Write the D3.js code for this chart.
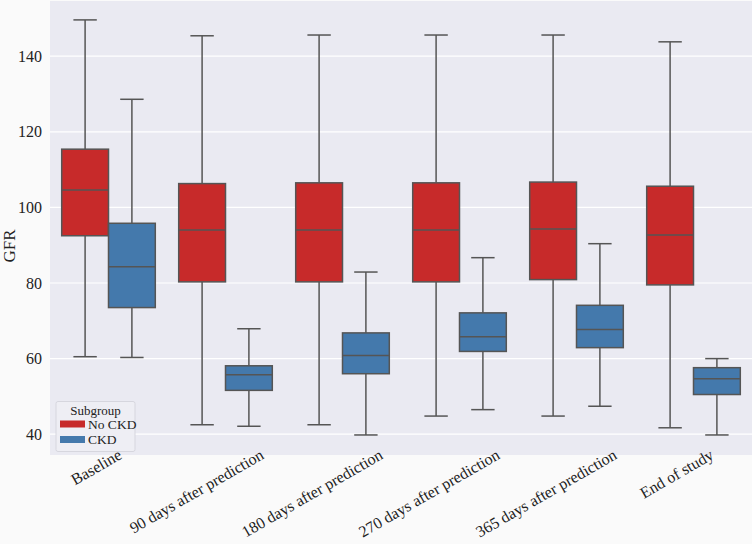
<!DOCTYPE html>
<html><head><meta charset="utf-8">
<script src="https://cdn.jsdelivr.net/npm/d3@7"></script>
<style>body{margin:0;background:#fafafa;} svg{display:block;} text{font-family:"Liberation Serif","Times New Roman","DejaVu Serif",serif;}</style>
</head><body>
<svg id="chart" width="752" height="544"></svg>
<script>
const categories = ["Baseline","90 days after prediction","180 days after prediction","270 days after prediction","365 days after prediction","End of study"];
const groups = ["No CKD","CKD"];
// [whiskerLow, Q1, median, Q3, whiskerHigh]
const noCKD = [
  [60.5, 92.5, 104.6, 115.4, 149.6],
  [42.5, 80.3, 94.0, 106.3, 145.4],
  [42.5, 80.3, 94.0, 106.5, 145.6],
  [44.8, 80.3, 94.0, 106.5, 145.6],
  [44.8, 80.9, 94.3, 106.7, 145.6],
  [41.7, 79.5, 92.7, 105.6, 143.8]
];
const ckd = [
  [60.3, 73.5, 84.3, 95.8, 128.6],
  [42.1, 51.6, 55.7, 58.1, 67.9],
  [39.8, 56.0, 60.8, 66.8, 82.9],
  [46.5, 61.9, 65.8, 72.1, 86.7],
  [47.4, 62.9, 67.7, 74.1, 90.4],
  [39.8, 50.5, 54.7, 57.6, 60.0]
];
const yTicks = [40, 60, 80, 100, 120, 140];
const colors = ["#c72a2a", "#4479ac"];

const svg = d3.select("#chart");
const L = 50, R = 752, T = 1, B = 455;

svg.append("rect").attr("x", L).attr("y", T).attr("width", R - L).attr("height", B - T).attr("fill", "#eaeaf2");

const x = d3.scaleBand().domain(categories).range([L, R]).padding(0);
const y = d3.scaleLinear().domain([34.5, 154.6]).range([B, T]);

// grid
svg.append("g").selectAll("line").data(yTicks).join("line")
  .attr("x1", L).attr("x2", R).attr("y1", d => y(d)).attr("y2", d => y(d))
  .attr("stroke", "#fff").attr("stroke-width", 1.2);

// y axis
const yAxis = svg.append("g").attr("transform", `translate(${L},0)`)
  .call(d3.axisLeft(y).tickValues(yTicks).tickSize(0).tickPadding(8));
yAxis.select(".domain").remove();
yAxis.selectAll("text").attr("font-family", null).attr("font-size", 16).attr("fill", "#222");

// x axis labels
const bw = x.bandwidth();
svg.append("g").selectAll("text").data(categories).join("text")
  .attr("text-anchor", "end")
  .attr("font-size", 16).attr("fill", "#222")
  .text(d => d)
  .each(function (d) {
    const len = this.getComputedTextLength();
    d3.select(this).attr("transform", `translate(${x(d) + bw / 2 + 0.26 * len},${B + 3}) rotate(-30)`);
  });

// y label
svg.append("text").attr("transform", `translate(15,246) rotate(-90)`)
  .attr("text-anchor", "middle").attr("font-size", 17).attr("fill", "#222")
  .text("GFR");

// boxes
const lineColor = "#555";
const series = [noCKD, ckd];
series.forEach((data, gi) => {
  const g = svg.append("g");
  data.forEach((s, ci) => {
    const c = x(categories[ci]) + bw / 2;
    const w = bw * 0.4;
    const x0 = gi === 0 ? c - w : c;
    const xc = x0 + w / 2;
    const [lo, q1, med, q3, hi] = s;
    g.append("line").attr("x1", xc).attr("x2", xc).attr("y1", y(hi)).attr("y2", y(q3)).attr("stroke", lineColor).attr("stroke-width", 1.5);
    g.append("line").attr("x1", xc).attr("x2", xc).attr("y1", y(q1)).attr("y2", y(lo)).attr("stroke", lineColor).attr("stroke-width", 1.5);
    g.append("line").attr("x1", xc - w / 4).attr("x2", xc + w / 4).attr("y1", y(hi)).attr("y2", y(hi)).attr("stroke", lineColor).attr("stroke-width", 1.5);
    g.append("line").attr("x1", xc - w / 4).attr("x2", xc + w / 4).attr("y1", y(lo)).attr("y2", y(lo)).attr("stroke", lineColor).attr("stroke-width", 1.5);
    g.append("rect").attr("x", x0).attr("y", y(q3)).attr("width", w).attr("height", y(q1) - y(q3))
      .attr("fill", colors[gi]).attr("stroke", lineColor).attr("stroke-width", 1.5);
    g.append("line").attr("x1", x0).attr("x2", x0 + w).attr("y1", y(med)).attr("y2", y(med)).attr("stroke", lineColor).attr("stroke-width", 1.5);
  });
});

// legend
const lg = svg.append("g");
lg.append("rect").attr("x", 56).attr("y", 401.5).attr("width", 79).attr("height", 50).attr("rx", 2)
  .attr("fill", "#eeeef4").attr("stroke", "#d6d6de").attr("stroke-width", 1);
lg.append("text").attr("x", 95.5).attr("y", 415).attr("text-anchor", "middle")
  .attr("font-size", 13).attr("fill", "#222").text("Subgroup");
groups.forEach((gname, i) => {
  lg.append("rect").attr("x", 60).attr("y", 420.5 + i * 15.5).attr("width", 25).attr("height", 7)
    .attr("fill", colors[i]);
  lg.append("text").attr("x", 88).attr("y", 428.5 + i * 15.5)
    .attr("font-size", 13.5).attr("fill", "#222").text(gname);
});
</script>
</body></html>
